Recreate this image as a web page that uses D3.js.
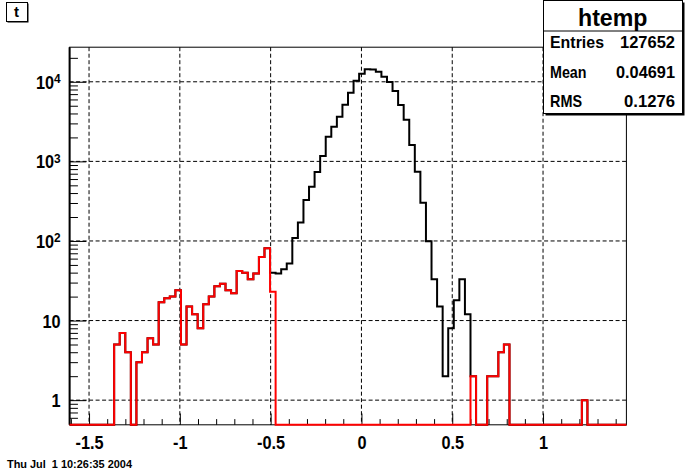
<!DOCTYPE html>
<html><head><meta charset="utf-8">
<script src="https://cdn.jsdelivr.net/npm/d3@7"></script>
<style>
body{margin:0;background:#fff}
svg{display:block}
text{font-family:"Liberation Sans",Arial,Helvetica,sans-serif;font-weight:bold;fill:#000}
</style>
</head><body>
<svg id="c" width="696" height="472"></svg>
<script>
// ---------- data ----------
const nBins = 100;
const xRange = [-1.607, 1.459];
const yRange = [0.49, 27200];

const blackCounts = [
  0,0,0,0,0,0,0,0,5,7,
  4,0,3,4,6,5,17,19,20,24,
  5,15,12,8,16,20,27,29,24,22,
  42,40,33,39,63,81,40,39,44,52,
  109,170,327,481,736,1169,2043,2729,3646,5155,
  7295,10320,12650,14400,14300,13400,11590,9940,7660,5115,
  3343,1607,743,303,99,33,15,2,8,18,
  33,12,2,0,0,2,2,4,5,0,
  0,0,0,0,0,0,0,0,0,0,
  0,0,1,0,0,0,0,0,0,0
];
const redCounts = [
  0,0,0,0,0,0,0,0,5,7,
  4,0,3,4,6,5,17,19,20,24,
  5,15,12,8,16,20,27,29,24,22,
  42,40,33,39,63,81,23,0,0,0,
  0,0,0,0,0,0,0,0,0,0,
  0,0,0,0,0,0,0,0,0,0,
  0,0,0,0,0,0,0,0,0,0,
  0,0,2,0,0,2,2,4,5,0,
  0,0,0,0,0,0,0,0,0,0,
  0,0,1,0,0,0,0,0,0,0
];

const xTickValues = [-1.5, -1, -0.5, 0, 0.5, 1];
const xTickLabels = ["-1.5", "-1", "-0.5", "0", "0.5", "1"];
const yDecades = [1, 10, 100, 1000, 10000];
const yDecadeExp = [0, 1, 2, 3, 4];

const histName = "htemp";
const statsNames = ["Entries", "Mean", "RMS"];
const statsValues = ["127652", "0.04691", "0.1276"];
const padTitle = "t";
const dateStamp = "Thu Jul  1 10:26:35 2004";

// ---------- layout ----------
const W = 696, H = 472;
const fx0 = 69.6, fx1 = 626.4, fy0 = 47.2, fy1 = 424.8;

const svg = d3.select("#c");
svg.append("rect").attr("width", W).attr("height", H).attr("fill", "#fff");

const x = d3.scaleLinear().domain(xRange).range([fx0, fx1]);
const y = d3.scaleLog().domain(yRange).range([fy1, fy0]);
const yc = v => (v <= yRange[0] ? y(yRange[0]) : y(v));

// frame
svg.append("rect").attr("x", fx0).attr("y", fy0)
  .attr("width", fx1 - fx0).attr("height", fy1 - fy0)
  .attr("fill", "#fff").attr("stroke", "#000").attr("stroke-width", 1);

const binW = (xRange[1] - xRange[0]) / nBins;
function stepData(counts) {
  const pts = counts.map((v, i) => ({ e: xRange[0] + i * binW, v }));
  pts.push({ e: xRange[1], v: counts[counts.length - 1] });
  return pts;
}
const line = d3.line().x(d => x(d.e)).y(d => yc(d.v)).curve(d3.curveStepAfter);

// black histogram
svg.append("path").attr("d", line(stepData(blackCounts)))
  .attr("fill", "none").attr("stroke", "#000").attr("stroke-width", 2)
  .attr("stroke-linejoin", "miter");

// grid
const grid = svg.append("g").attr("stroke", "#000").attr("stroke-width", 1)
  .attr("stroke-dasharray", "4,2.5");
grid.selectAll("line.gx").data(xTickValues).join("line").attr("class", "gx")
  .attr("x1", d => x(d)).attr("x2", d => x(d)).attr("y1", fy0).attr("y2", fy1);
grid.selectAll("line.gy").data(yDecades).join("line").attr("class", "gy")
  .attr("y1", d => y(d)).attr("y2", d => y(d)).attr("x1", fx0).attr("x2", fx1);

// x axis
const xMinor = d3.range(-16, 15).map(i => i / 10).filter(v => Math.abs(v * 2 - Math.round(v * 2)) > 1e-6);
const gxMinor = svg.append("g").attr("transform", `translate(0,${fy1})`)
  .call(d3.axisBottom(x).tickValues(xMinor).tickSize(-5.7).tickFormat(""));
gxMinor.select(".domain").remove();
const gxMajor = svg.append("g").attr("transform", `translate(0,${fy1})`)
  .call(d3.axisBottom(x).tickValues(xTickValues).tickSize(-11.3)
    .tickFormat((d, i) => xTickLabels[i]));
gxMajor.select(".domain").remove();
gxMajor.selectAll(".tick text")
  .attr("y", 0).attr("dy", null).attr("x", 0)
  .attr("transform", "translate(0,23.7) scale(0.88,1)")
  .attr("font-size", 18.5).attr("font-family", null).attr("fill", "#000");
svg.selectAll(".tick line").attr("stroke", "#000").attr("stroke-width", 1);

// y axis
const yMinor = [];
[0.1, 1, 10, 100, 1000, 10000].forEach(dec => {
  for (let m = 2; m <= 9; m++) {
    const v = dec * m;
    if (v >= yRange[0] && v <= yRange[1]) yMinor.push(v);
  }
});
const gyMinor = svg.append("g").attr("transform", `translate(${fx0},0)`)
  .call(d3.axisLeft(y).tickValues(yMinor).tickSize(-8.35).tickFormat(""));
gyMinor.select(".domain").remove();
const gyMajor = svg.append("g").attr("transform", `translate(${fx0},0)`)
  .call(d3.axisLeft(y).tickValues(yDecades).tickSize(-16.7).tickFormat(""));
gyMajor.select(".domain").remove();
gyMajor.selectAll(".tick line").attr("stroke", "#000");
gyMinor.selectAll(".tick line").attr("stroke", "#000");
gyMajor.selectAll(".tick").each(function (d, i) {
  const t = d3.select(this).select("text");
  t.text(null).attr("x", 0).attr("y", 0).attr("dy", null)
    .attr("text-anchor", "end").attr("font-family", null).attr("fill", "#000")
    .attr("transform", "translate(-9,0) scale(0.88,1)")
    .attr("font-size", 18.5);
  const e = yDecadeExp[i];
  if (e === 0) {
    t.append("tspan").attr("dy", 6.6).text("1");
  } else if (e === 1) {
    t.append("tspan").attr("dy", 6.6).text("10");
  } else {
    t.append("tspan").attr("dy", 6.6).text("10");
    t.append("tspan").attr("dy", -5.8).attr("font-size", 13.5).text(String(e));
  }
});

// left axis line
svg.append("line").attr("x1", fx0).attr("x2", fx0).attr("y1", fy0).attr("y2", fy1)
  .attr("stroke", "#000").attr("stroke-width", 2);

// red histogram
svg.append("path").attr("d", line(stepData(redCounts)))
  .attr("fill", "none").attr("stroke", "#ff0000").attr("stroke-width", 2)
  .attr("stroke-linejoin", "miter");

// title box
svg.append("rect").attr("x", 7.5).attr("y", 3.5).attr("width", 21).attr("height", 19).attr("fill", "#000");
svg.append("rect").attr("x", 6.5).attr("y", 2.5).attr("width", 21).attr("height", 19)
  .attr("fill", "#fff").attr("stroke", "#000").attr("stroke-width", 1);
svg.append("text").attr("x", 16.5).attr("y", 17).attr("text-anchor", "middle")
  .attr("font-size", 15).text(padTitle);

// stats box
const sbx = 543.5, sby = 0.5, sbw = 139, sbh = 113;
svg.append("rect").attr("x", sbx + 2).attr("y", sby + 2).attr("width", sbw).attr("height", sbh).attr("fill", "#000");
svg.append("rect").attr("x", sbx).attr("y", sby).attr("width", sbw).attr("height", sbh)
  .attr("fill", "#fff").attr("stroke", "#000").attr("stroke-width", 1);
svg.append("line").attr("x1", sbx).attr("x2", sbx + sbw).attr("y1", 31).attr("y2", 31)
  .attr("stroke", "#000").attr("stroke-width", 1);
svg.append("text").attr("x", 578).attr("y", 26).attr("font-size", 23.5)
  .attr("textLength", 69.5).attr("lengthAdjust", "spacingAndGlyphs").text(histName);

const rowBase = [48, 78.3, 107];
const nameW = [54, 36.5, 32];
const valW = [55, 59, 51];
statsNames.forEach((n, i) => {
  svg.append("text").attr("x", 550).attr("y", rowBase[i]).attr("font-size", 17)
    .attr("textLength", nameW[i]).attr("lengthAdjust", "spacingAndGlyphs").text(n);
  svg.append("text").attr("x", 675 - valW[i]).attr("y", rowBase[i]).attr("font-size", 17)
    .attr("textLength", valW[i]).attr("lengthAdjust", "spacingAndGlyphs").text(statsValues[i]);
});

// date stamp
svg.append("text").attr("x", 7).attr("y", 467.5).attr("font-size", 11.5)
  .style("white-space", "pre")
  .attr("textLength", 125).attr("lengthAdjust", "spacingAndGlyphs").text(dateStamp);
</script>
</body></html>
